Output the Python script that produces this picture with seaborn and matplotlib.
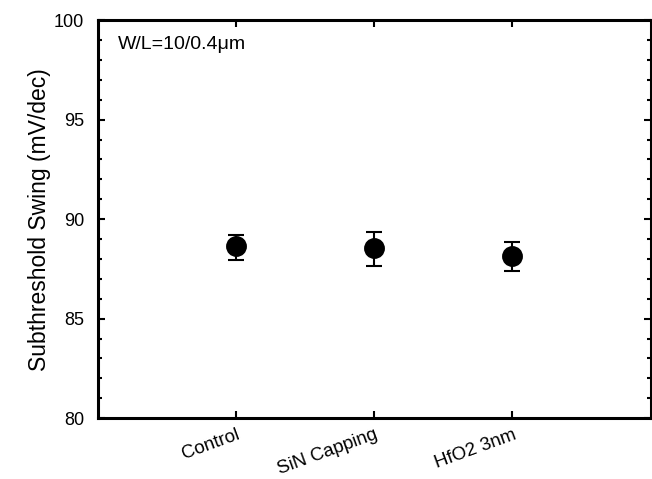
import numpy as np
import pandas as pd
import seaborn as sns
from matplotlib import pyplot as plt
from matplotlib.ticker import MultipleLocator

samples = ['Control', 'SiN Capping', 'HfO2 3nm']
swing = [88.65, 88.55, 88.15]
err_low = [87.95, 87.65, 87.40]
err_high = [89.20, 89.35, 88.85]

sns.set_theme(style="white")
plt.rcParams['font.family'] = ['Liberation Sans', 'DejaVu Sans']
plt.rcParams['text.color'] = 'black'
plt.rcParams['axes.labelcolor'] = 'black'
plt.rcParams['xtick.color'] = 'black'
plt.rcParams['ytick.color'] = 'black'

df = pd.DataFrame({'sample': samples, 'swing': swing})

fig = plt.figure(figsize=(6.52, 4.79), dpi=100)
ax = fig.add_axes([0.150, 0.127, 0.848, 0.831])

sns.pointplot(data=df, x='sample', y='swing', color='black', linestyle='none',
              markers='o', markersize=13, errorbar=None, ax=ax, zorder=3)
pos = np.arange(len(samples))
yerr = [np.array(swing) - np.array(err_low), np.array(err_high) - np.array(swing)]
ax.errorbar(pos, swing, yerr=yerr, fmt='none', ecolor='black', elinewidth=1.5,
            capsize=5.5, capthick=1.5, zorder=2)

ax.set_xlim(-1, 3)
ax.set_ylim(80, 100)
ax.yaxis.set_major_locator(MultipleLocator(5))
ax.yaxis.set_minor_locator(MultipleLocator(1))
ax.tick_params(axis='y', which='major', direction='in', length=5, width=1.5,
               left=True, right=True, labelsize=13, pad=10)
ax.tick_params(axis='y', which='minor', direction='in', length=3, width=1.5,
               left=True, right=True)
ax.tick_params(axis='x', which='major', direction='in', length=5, width=1.5,
               bottom=True, top=True, labelsize=13.5, pad=6)
ax.set_xticks(pos)
ax.set_xticklabels(samples, rotation=20, ha='right', rotation_mode='anchor')

for s in ax.spines.values():
    s.set_color('black')
    s.set_linewidth(2.2)

ax.set_xlabel('')
ax.set_ylabel('Subthreshold Swing (mV/dec)', fontsize=16.5, labelpad=2)
ax.text(0.036, 0.94, 'W/L=10/0.4\u03bcm', transform=ax.transAxes, fontsize=14,
        ha='left', va='center')

fig.savefig('out.png', dpi=100)
